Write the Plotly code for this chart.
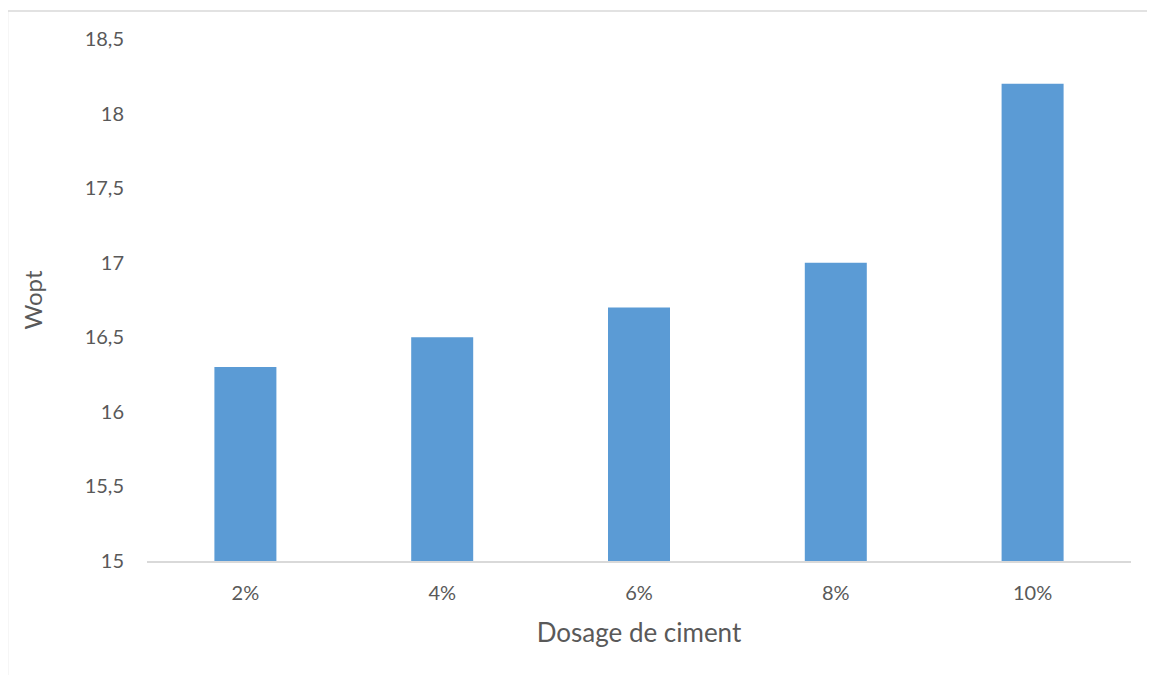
import plotly.graph_objects as go

categories = ["2%", "4%", "6%", "8%", "10%"]
wopt = [16.3, 16.5, 16.7, 17.0, 18.2]
y_tick_vals = [15, 15.5, 16, 16.5, 17, 17.5, 18, 18.5]
y_tick_text = ["15", "15,5", "16", "16,5", "17", "17,5", "18", "18,5"]

font_family = "Lato, 'Open Sans', sans-serif"
text_color = "#595959"

fig = go.Figure(go.Bar(
    x=categories, y=wopt,
    marker=dict(color="#5B9BD5", line=dict(width=0)),
))

# page body has an 8px margin, so figure coords are shifted by 8px
L, R, T, B = 139, 32, 31, 122
pw = 1155 - L - R
ph = 675 - T - B

def px_x(x):
    return (x - 8 - L) / pw

def px_y(y):
    return (675 - B - (y - 8)) / ph

fig.update_layout(
    width=1155, height=675,
    margin=dict(l=L, r=R, t=T, b=B),
    paper_bgcolor="white", plot_bgcolor="white",
    bargap=0.685,
    separators=", ",
    showlegend=False,
    font=dict(family=font_family, color=text_color, size=20),
    xaxis=dict(
        title=dict(text="Dosage de ciment", font=dict(size=26, color=text_color), standoff=21),
        showline=True, linecolor="#D9D9D9", linewidth=2,
        showgrid=False, ticks="", tickfont=dict(size=20, color=text_color),
        ticklabelstandoff=13,
    ),
    yaxis=dict(
        title=dict(text="Wopt", font=dict(size=24, color=text_color), standoff=35),
        range=[15, 18.5], tickvals=y_tick_vals, ticktext=y_tick_text,
        showgrid=False, showline=False, zeroline=False, ticks="",
        tickfont=dict(size=20, color=text_color),
        ticklabelstandoff=22,
    ),
    shapes=[
        dict(type="line", xref="paper", yref="paper", x0=px_x(7.5), x1=px_x(7.5), y0=px_y(11), y1=px_y(700),
             line=dict(color="#D9D9D9", width=1.5)),
        dict(type="line", xref="paper", yref="paper", x0=px_x(7.5), x1=px_x(1170), y0=px_y(11), y1=px_y(11),
             line=dict(color="#D9D9D9", width=1.5)),
    ],
)

fig.write_html("out.html")
